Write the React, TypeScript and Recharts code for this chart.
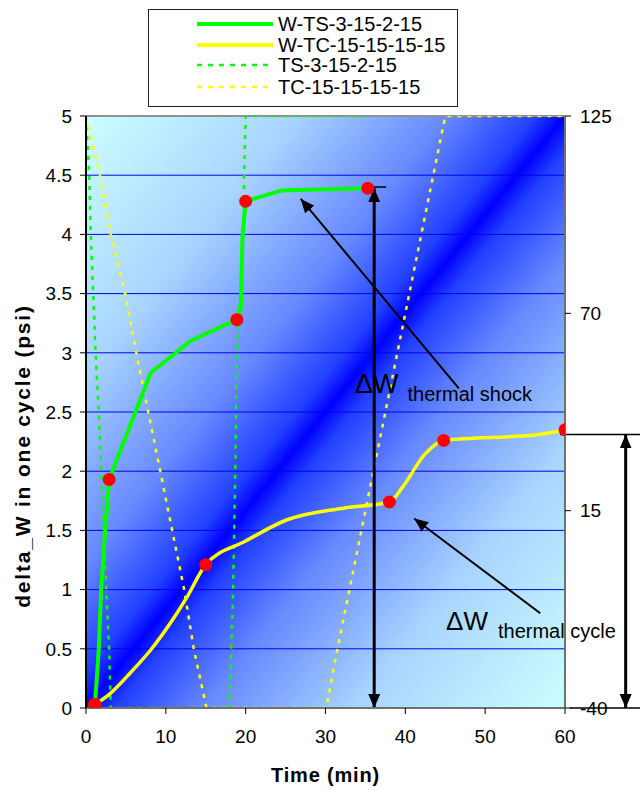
import React from 'react';
import {
  ComposedChart,
  Line,
  XAxis,
  YAxis,
  CartesianGrid,
  ReferenceLine,
  ReferenceDot,
  Legend,
  Label,
} from 'recharts';

const FONT = '"Liberation Sans", Arial, Helvetica, sans-serif';
const GREEN = '#00ff00';
const YELLOW = '#ffff00';

// ---- series names ----
const seriesNames = ['W-TS-3-15-2-15', 'W-TC-15-15-15-15', 'TS-3-15-2-15', 'TC-15-15-15-15'];

// ---- tick labels ----
const xTicks = [0, 10, 20, 30, 40, 50, 60];
const leftTicks = [0, 0.5, 1, 1.5, 2, 2.5, 3, 3.5, 4, 4.5, 5];
const rightTicks = [-40, 15, 70, 125];

// ---- W-TS-3-15-2-15 (delta W, psi) ----
const wtsTime = [1.1, 1.3, 1.6, 1.9, 2.3, 2.9, 8.1, 13.1, 18.9, 19.4, 19.6, 19.9, 20.0, 24.5, 35.3];
const wtsValue = [0.03, 0.2, 0.5, 1.0, 1.4, 1.93, 2.83, 3.1, 3.28, 3.39, 3.98, 4.2, 4.28, 4.37, 4.39];
const wtsMarked = [1, 0, 0, 0, 0, 1, 0, 0, 1, 0, 0, 0, 1, 0, 1];

// ---- W-TC-15-15-15-15 (delta W, psi) ----
const wtcTime = [1.1, 3, 5.6, 8.1, 10.6, 12.6, 15.0, 20, 25.2, 32.4, 38.0, 39.7, 42.4, 44.8, 56.8, 60];
const wtcValue = [0.03, 0.12, 0.3, 0.49, 0.72, 0.93, 1.21, 1.41, 1.59, 1.69, 1.74, 1.87, 2.14, 2.26, 2.31, 2.35];
const wtcMarked = [1, 0, 0, 0, 0, 0, 1, 0, 0, 0, 1, 0, 0, 1, 0, 1];

// ---- TS-3-15-2-15 temperature profile (°C, right axis) ----
const tsTime = [0, 0.4, 0.6, 0.9, 1.2, 1.6, 1.9, 2.6, 2.9, 3.1, 17.9, 18.2, 18.4, 18.7, 18.9, 19.7, 19.8, 20.0, 35];
const tsTemp = [125, 108.5, 92, 75.5, 59, 42.5, 26, -10, -23.5, -40, -40, -23.5, -10, 26, 59, 92, 108.5, 125, 125];

// ---- TC-15-15-15-15 temperature profile (°C, right axis) ----
const tcTime = [0, 1.75, 3.1, 4.9, 6.3, 10.8, 12.3, 13.5, 15.1, 30.1, 31.5, 45, 60];
const tcTemp = [125, 108.5, 92, 75.5, 59, 9.5, -7, -23.5, -40, -40, -23.5, 125, 125];

const wtsData = wtsTime.map((t, i) => ({ t, v: wtsValue[i], m: wtsMarked[i] }));
const wtcData = wtcTime.map((t, i) => ({ t, v: wtcValue[i], m: wtcMarked[i] }));
const tsData = tsTime.map((t, i) => ({ t, temp: tsTemp[i] }));
const tcData = tcTime.map((t, i) => ({ t, temp: tcTemp[i] }));

const redDot = (props: any) => {
  const { cx, cy, payload, index } = props;
  if (!payload || !payload.m) return <g key={`d-${index}`} />;
  return <circle key={`d-${index}`} cx={cx} cy={cy} r={6.5} fill="#ff0000" stroke="none" />;
};

const arrowShape = (w: number, start: boolean, end: boolean) => (p: any) => (
  <line
    x1={p.x1}
    y1={p.y1}
    x2={p.x2}
    y2={p.y2}
    stroke="#000"
    strokeWidth={w}
    markerStart={start ? 'url(#ah)' : undefined}
    markerEnd={end ? 'url(#ah)' : undefined}
  />
);

const DeltaLabel = (props: any) => {
  const vb = props.viewBox || {};
  const x = (vb.x || 0) + (vb.width || 0) / 2;
  const y = (vb.y || 0) + (vb.height || 0) / 2;
  return (
    <text x={x} y={y} fontFamily={FONT} fill="#000">
      <tspan fontSize={props.big}>ΔW</tspan>
      <tspan fontSize={props.small} dx={props.gap} dy={8}>
        {props.sub}
      </tspan>
    </text>
  );
};

const LegendBox = () => {
  const rows = [
    { name: seriesNames[0], color: GREEN, dash: undefined, w: 4 },
    { name: seriesNames[1], color: YELLOW, dash: undefined, w: 4 },
    { name: seriesNames[2], color: GREEN, dash: '5 6', w: 2.5 },
    { name: seriesNames[3], color: YELLOW, dash: '5 6', w: 2.5 },
  ];
  const ys = [14, 35, 55, 77];
  return (
    <div
      style={{
        width: 310,
        height: 98,
        boxSizing: 'border-box',
        border: '1px solid #222',
        background: '#fff',
      }}
    >
      <svg width={308} height={96} style={{ display: 'block' }}>
        {rows.map((r, i) => (
          <g key={i}>
            <line x1={48} x2={124} y1={ys[i]} y2={ys[i]} stroke={r.color} strokeWidth={r.w} strokeDasharray={r.dash} />
            <text x={129} y={ys[i]} dy="0.36em" fontSize={20} fontFamily={FONT} fill="#000">
              {r.name}
            </text>
          </g>
        ))}
      </svg>
    </div>
  );
};

export default function App() {
  return (
    <div style={{ position: 'fixed', left: 0, top: 0, width: 640, height: 791, background: '#fff' }}>
      <ComposedChart
        width={640}
        height={791}
        margin={{ top: 116, right: 0, bottom: 43, left: 0 }}
        style={{ fontFamily: FONT }}
      >
        <defs>
          <linearGradient id="bgGrad" x1="0" y1="0" x2="1" y2="1">
            <stop offset="0" stopColor="#ccffff" />
            <stop offset="0.22" stopColor="#a8d4ff" />
            <stop offset="0.38" stopColor="#6688ff" />
            <stop offset="0.47" stopColor="#2240ff" />
            <stop offset="0.5" stopColor="#0000ff" />
            <stop offset="0.53" stopColor="#2240ff" />
            <stop offset="0.62" stopColor="#6688ff" />
            <stop offset="0.78" stopColor="#a8d4ff" />
            <stop offset="1" stopColor="#ccffff" />
          </linearGradient>
          <marker
            id="ah"
            viewBox="0 0 14 12"
            refX={14}
            refY={6}
            markerWidth={14}
            markerHeight={12}
            markerUnits="userSpaceOnUse"
            orient="auto-start-reverse"
            preserveAspectRatio="none"
          >
            <path d="M0,0 L14,6 L0,12 z" fill="#000" />
          </marker>
        </defs>

        <CartesianGrid
          yAxisId="left"
          vertical={false}
          stroke="#0000ee"
          strokeWidth={1}
          fill="url(#bgGrad)"
          fillOpacity={1}
        />

        <XAxis
          dataKey="t"
          type="number"
          domain={[0, 60]}
          ticks={xTicks}
          interval={0}
          height={40}
          tickSize={6}
          tickMargin={16}
          axisLine={{ stroke: '#707070', strokeWidth: 2 }}
          tickLine={{ stroke: '#000' }}
          tick={{ fontSize: 19, fill: '#000', fontFamily: FONT }}
          allowDataOverflow
        >
          <Label
            content={(p: any) => {
              const vb = p.viewBox || {};
              return (
                <text
                  x={vb.x + vb.width / 2}
                  y={vb.y + 74}
                  textAnchor="middle"
                  fontFamily={FONT}
                  fontWeight="bold"
                  fontSize={20}
                  letterSpacing={0.8}
                  fill="#000"
                >
                  Time (min)
                </text>
              );
            }}
          />
        </XAxis>

        <YAxis
          yAxisId="left"
          type="number"
          domain={[0, 5]}
          ticks={leftTicks}
          interval={0}
          width={86}
          tickSize={6}
          tickMargin={8}
          axisLine={{ stroke: '#000', strokeWidth: 2 }}
          tickLine={{ stroke: '#000' }}
          tick={{ fontSize: 19, fill: '#000', fontFamily: FONT }}
          allowDataOverflow
        >
          <Label
            content={(p: any) => {
              const vb = p.viewBox || {};
              const cx = 22;
              const cy = vb.y + vb.height / 2 + 44;
              return (
                <text
                  x={cx}
                  y={cy}
                  transform={`rotate(-90, ${cx}, ${cy})`}
                  textAnchor="middle"
                  dominantBaseline="central"
                  fontFamily={FONT}
                  fontWeight="bold"
                  fontSize={21}
                  letterSpacing={1.8}
                  fill="#000"
                >
                  delta_W in one cycle (psi)
                </text>
              );
            }}
          />
        </YAxis>

        <YAxis
          yAxisId="right"
          orientation="right"
          type="number"
          domain={[-40, 125]}
          ticks={rightTicks}
          interval={0}
          width={75}
          tickSize={6}
          tickMargin={9}
          axisLine={{ stroke: '#707070', strokeWidth: 2 }}
          tickLine={{ stroke: '#000' }}
          tick={{ fontSize: 19, fill: '#000', fontFamily: FONT }}
          allowDataOverflow
        />

        <ReferenceLine yAxisId="left" y={5} stroke="#909090" strokeWidth={2} />

        <Line
          yAxisId="right"
          data={tsData}
          dataKey="temp"
          type="linear"
          stroke={GREEN}
          strokeWidth={2.5}
          strokeDasharray="4 6"
          dot={false}
          activeDot={false}
          isAnimationActive={false}
          name={seriesNames[2]}
        />
        <Line
          yAxisId="right"
          data={tcData}
          dataKey="temp"
          type="linear"
          stroke={YELLOW}
          strokeWidth={2.5}
          strokeDasharray="4 6"
          dot={false}
          activeDot={false}
          isAnimationActive={false}
          name={seriesNames[3]}
        />
        <Line
          yAxisId="left"
          data={wtcData}
          dataKey="v"
          type="monotone"
          stroke={YELLOW}
          strokeWidth={3.5}
          dot={redDot}
          activeDot={false}
          isAnimationActive={false}
          name={seriesNames[1]}
        />
        <Line
          yAxisId="left"
          data={wtsData}
          dataKey="v"
          type="linear"
          stroke={GREEN}
          strokeWidth={4}
          dot={redDot}
          activeDot={false}
          isAnimationActive={false}
          name={seriesNames[0]}
        />

        {/* thermal shock span arrow */}
        <ReferenceLine
          yAxisId="left"
          segment={[{ x: 36.1, y: 0 }, { x: 36.1, y: 4.39 }]}
          ifOverflow="visible"
          shape={arrowShape(3, true, true)}
        />
        <ReferenceLine
          yAxisId="left"
          segment={[{ x: 35.0, y: 4.4 }, { x: 37.6, y: 4.4 }]}
          ifOverflow="visible"
          stroke="#000"
          strokeWidth={1.5}
        />
        {/* pointer arrows */}
        <ReferenceLine
          yAxisId="left"
          segment={[{ x: 46.7, y: 2.7 }, { x: 26.9, y: 4.3 }]}
          ifOverflow="visible"
          shape={arrowShape(2, false, true)}
        />
        <ReferenceLine
          yAxisId="left"
          segment={[{ x: 56.9, y: 0.8 }, { x: 41.1, y: 1.6 }]}
          ifOverflow="visible"
          shape={arrowShape(2, false, true)}
        />
        {/* thermal cycle span arrow (outside plot) */}
        <ReferenceLine
          yAxisId="left"
          segment={[{ x: 67.6, y: 0 }, { x: 67.6, y: 2.31 }]}
          ifOverflow="visible"
          shape={arrowShape(3, true, true)}
        />
        <ReferenceLine
          yAxisId="left"
          segment={[{ x: 59.4, y: 2.31 }, { x: 69.4, y: 2.31 }]}
          ifOverflow="visible"
          stroke="#000"
          strokeWidth={1.5}
        />
        <ReferenceLine
          yAxisId="left"
          segment={[{ x: 60.6, y: 0 }, { x: 69.4, y: 0 }]}
          ifOverflow="visible"
          stroke="#000"
          strokeWidth={1.5}
        />

        <ReferenceDot
          yAxisId="left"
          x={33.7}
          y={2.66}
          r={0}
          fill="none"
          stroke="none"
          ifOverflow="visible"
          label={<DeltaLabel big={27} small={20} gap={9} sub="thermal shock" />}
        />
        <ReferenceDot
          yAxisId="left"
          x={45.1}
          y={0.659}
          r={0}
          fill="none"
          stroke="none"
          ifOverflow="visible"
          label={<DeltaLabel big={26} small={20} gap={10} sub="thermal cycle" />}
        />

        <Legend
          verticalAlign="middle"
          align="center"
          layout="horizontal"
          wrapperStyle={{ position: 'absolute', left: 148, top: 9, width: 310, height: 98 }}
          content={() => <LegendBox />}
        />
      </ComposedChart>
    </div>
  );
}
